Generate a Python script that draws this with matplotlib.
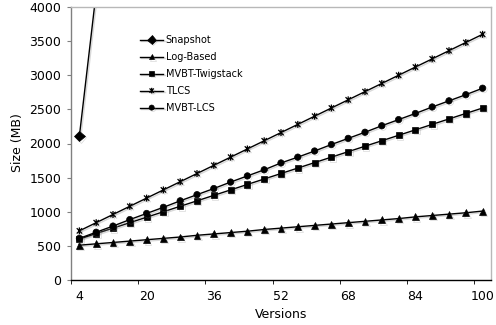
import matplotlib
matplotlib.use("Agg")
import matplotlib.pyplot as plt
import matplotlib.patheffects as pe
from matplotlib.path import Path
import numpy as np

# values (MB), one per version
versions = [4, 8, 12, 16, 20, 24, 28, 32, 36, 40, 44, 48, 52,
            56, 60, 64, 68, 72, 76, 80, 84, 88, 92, 96, 100]
snapshot = [2110, 4220]  # rest is far above the axis
log_based = [510, 530, 550, 570, 590, 610, 630, 655, 675, 695, 715, 740, 760,
             780, 800, 820, 840, 860, 880, 900, 925, 945, 965, 985, 1010]
mvbt_twig = [600, 680, 760, 840, 920, 1000, 1080, 1160, 1240, 1320, 1400, 1480, 1560,
             1640, 1720, 1800, 1880, 1960, 2040, 2120, 2200, 2280, 2360, 2440, 2520]
tlcs = [720, 840, 960, 1080, 1200, 1320, 1440, 1560, 1680, 1800, 1920, 2040, 2160,
        2280, 2400, 2520, 2640, 2760, 2880, 3000, 3120, 3240, 3360, 3480, 3600]
mvbt_lcs = [610, 700, 790, 885, 975, 1065, 1160, 1250, 1340, 1435, 1525, 1615, 1715,
            1800, 1890, 1985, 2075, 2165, 2260, 2350, 2440, 2535, 2625, 2715, 2810]

plt.rcParams['font.family'] = 'DejaVu Sans'

fig = plt.figure(figsize=(4.96, 3.25), dpi=100)
ax = fig.add_axes([71/496, 1-280/325, 420/496, 273/325])

# excel style asterisk marker
star = Path([(-1, -1), (1, 1), (-1, 1), (1, -1), (0, -1.3), (0, 1.3)],
            [Path.MOVETO, Path.LINETO] * 3)

shadow = [pe.SimpleLineShadow(offset=(1, -1), shadow_color='gray', alpha=0.3), pe.Normal()]

idx = np.arange(len(versions))
series = [('Snapshot', snapshot, 'D', 5.5, 0.5),
          ('Log-Based', log_based, '^', 5, 0.5),
          ('MVBT-Twigstack', mvbt_twig, 's', 4.4, 0.5),
          ('TLCS', tlcs, star, 5, 0.9),
          ('MVBT-LCS', mvbt_lcs, 'o', 4.6, 0.5)]
for name, vals, mk, ms, mew in series:
    ax.plot(idx[:len(vals)], vals, color='black', lw=1, marker=mk, ms=ms,
            mfc='black', mec='black', mew=mew, label=name, path_effects=shadow)

ax.set_xlim(-0.5, len(versions) - 0.5)
ax.set_ylim(0, 4000)
ax.set_yticks(np.arange(0, 4001, 500))
ax.set_xticks(idx[::4])
ax.set_xticklabels([str(v) for v in versions[::4]])
ax.set_xticks(np.arange(-0.5, len(versions) - 1, 4), minor=True)

ax.tick_params(axis='x', which='major', length=0, pad=7, labelsize=9)
ax.tick_params(axis='x', which='minor', length=3, direction='out', color='black')
ax.tick_params(axis='y', length=3, direction='out', color='#808080', pad=4, labelsize=9)

ax.spines['left'].set_color('#808080')
ax.spines['bottom'].set_color('black')
ax.spines['top'].set_color('#b8b8b8')
ax.spines['right'].set_color('#b8b8b8')
for s in ax.spines.values():
    s.set_linewidth(1)

fig.text(18/496, 1-143/325, 'Size (MB)', rotation=90, ha='center', va='center', fontsize=9)
fig.text(281/496, 1-315/325, 'Versions', ha='center', va='center', fontsize=9)

ax.legend(loc='upper left', bbox_to_anchor=(140/496, 1-35/325), bbox_transform=fig.transFigure,
          frameon=False, fontsize=7, handlelength=2.4, handletextpad=0.25,
          labelspacing=0.72, borderpad=0, borderaxespad=0, markerscale=0.8)

fig.savefig('out.png', dpi=100)
